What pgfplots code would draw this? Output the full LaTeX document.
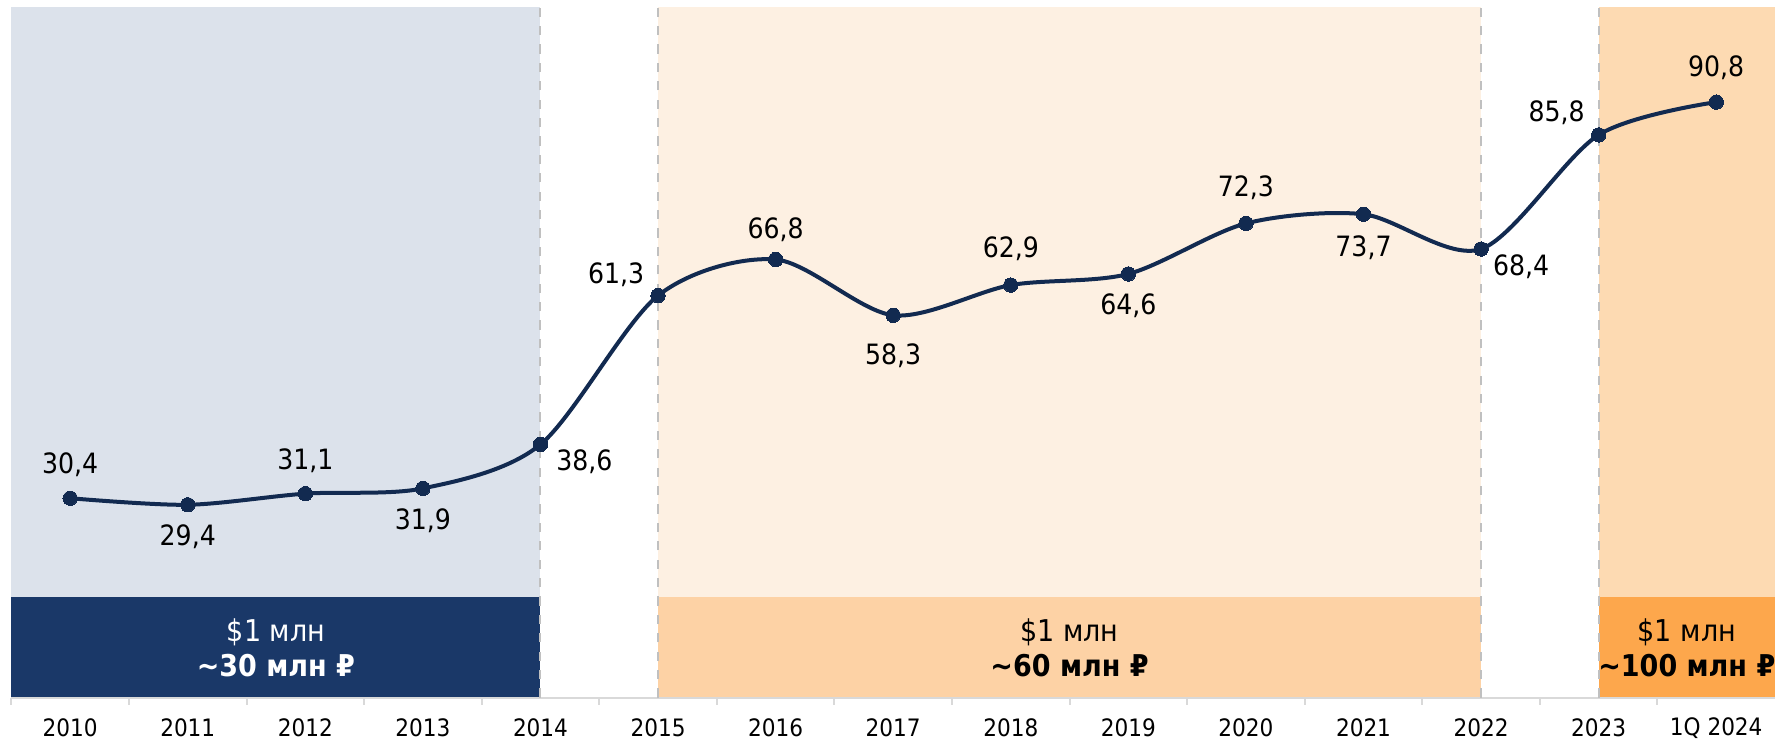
\documentclass[border=0pt]{standalone}
\usepackage{fontspec}
\setmainfont{DejaVu Sans Condensed}
\usepackage{pgfplots}
\pgfplotsset{compat=1.18}
\usepackage{pgfplotstable}

\definecolor{bgA}{HTML}{DCE2EB}
\definecolor{boxA}{HTML}{1A3868}
\definecolor{bgB}{HTML}{FDF0E2}
\definecolor{boxB}{HTML}{FDD2A5}
\definecolor{bgC}{HTML}{FDDAB2}
\definecolor{boxC}{HTML}{FDA74C}
\definecolor{linecol}{HTML}{122A50}
\definecolor{tickgray}{HTML}{D9D9D9}
\definecolor{dashgray}{HTML}{C0C0C0}

\pgfplotstableread{
x y dx dy
0 30.4 0 16.5
1 29.4 0 -16
2 31.1 0 16.5
3 31.9 0 -16
4 38.6 22 -8.5
5 61.3 -21 10.5
6 66.8 0 15
7 58.3 0 -20
8 62.9 0 18
9 64.6 0 -16
10 72.3 0 18
11 73.7 0 -16.5
12 68.4 20 -9
13 85.8 -21 11
14 90.8 0 17
}\datatable

\begin{document}
\begin{tikzpicture}
\useasboundingbox (-5.7pt,-21.7pt) rectangle (881.8pt,348.8pt);
\begin{axis}[
  scale only axis, width=881.8pt, height=345.3pt,
  xmin=-0.5, xmax=14.5, ymin=0, ymax=105.3,
  axis line style={draw=none},
  ytick=\empty,
  xtick={0,...,14},
  xticklabels={2010,2011,2012,2013,2014,2015,2016,2017,2018,2019,2020,2021,2022,2023,1Q 2024},
  major tick length=0pt,
  minor xtick={-0.5,0.5,...,13.5},
  minor tick length=3.5pt,
  tick align=outside,
  xtick pos=left,
  minor tick style={draw=tickgray, line width=1pt},
  xticklabel style={font=\fontsize{12}{13}\selectfont, anchor=center, yshift=-15.2pt, text=black},
  /pgf/number format/.cd, fixed, fixed zerofill, precision=1, use comma, assume math mode=true,
  /pgfplots/.cd,
  clip=false,
]
\fill[bgA] (axis cs:-0.5,15.3) rectangle (axis cs:4,105.3);
\fill[boxA] (axis cs:-0.5,0) rectangle (axis cs:4,15.3);
\fill[bgB] (axis cs:5,15.3) rectangle (axis cs:12,105.3);
\fill[boxB] (axis cs:5,0) rectangle (axis cs:12,15.3);
\fill[bgC] (axis cs:13,15.3) rectangle (axis cs:14.5,105.3);
\fill[boxC] (axis cs:13,0) rectangle (axis cs:14.5,15.3);
\draw[tickgray, line width=1pt] (axis cs:-0.5,0) -- (axis cs:14.5,0);
\foreach \xx in {4,5,12,13}{
  \edef\tmp{\noexpand\draw[dashgray, line width=1pt, dash pattern=on 4.6pt off 4.6pt] (axis cs:\xx,0) -- (axis cs:\xx,105.3);}\tmp
}
\node[text=white, align=center, font=\fontsize{15}{17.5}\selectfont] at (axis cs:1.75,7.65) {\$1 млн\\\textbf{\textasciitilde30 млн ₽}};
\node[text=black, align=center, font=\fontsize{15}{17.5}\selectfont] at (axis cs:8.5,7.65) {\$1 млн\\\textbf{\textasciitilde60 млн ₽}};
\node[text=black, align=center, font=\fontsize{15}{17.5}\selectfont] at (axis cs:13.75,7.65) {\$1 млн\\\textbf{\textasciitilde100 млн ₽}};

\addplot[linecol, line width=2pt, smooth, mark=*, mark size=3.6pt, mark options={fill=linecol, draw=linecol, line width=0pt}] table[x=x,y=y] {\datatable};

\addplot[draw=none, mark=none, point meta=explicit,
  nodes near coords={\pgfmathprintnumber{\pgfplotspointmeta}},
  visualization depends on={\thisrow{dx}\as\dx},
  visualization depends on={\thisrow{dy}\as\dy},
  every node near coord/.style={anchor=center, xshift=\dx*1pt, yshift=\dy*1pt, font=\fontsize{14}{15}\selectfont, text=black}
] table[x=x,y=y,meta=y] {\datatable};
\end{axis}
\end{tikzpicture}
\end{document}
